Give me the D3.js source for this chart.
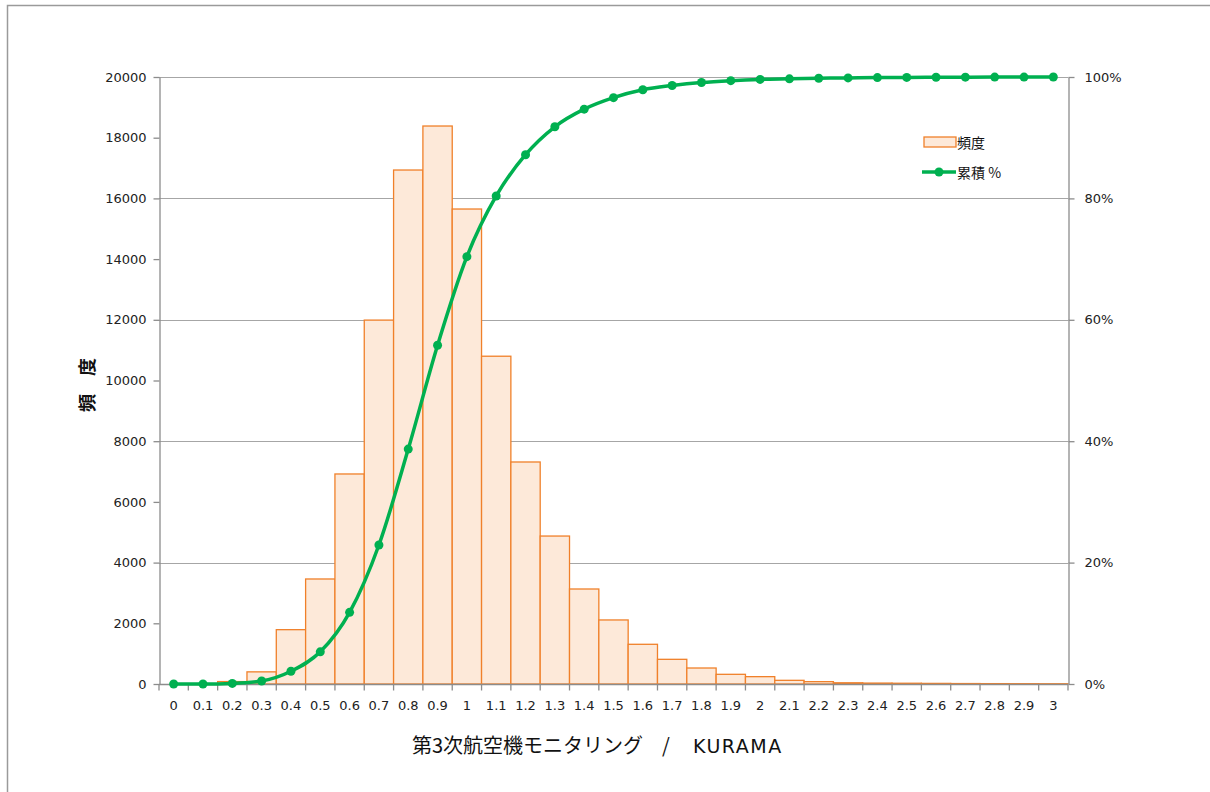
<!DOCTYPE html>
<html>
<head>
<meta charset="utf-8">
<script src="https://cdn.jsdelivr.net/npm/d3@7"></script>
<style>
  body { margin: 0; background: #fff; }
  text { font-family: "DejaVu Sans", "Noto Sans CJK JP", sans-serif; }
</style>
</head>
<body>
<svg id="chart" width="1210" height="792"></svg>
<script>
////////// DATA //////////

var categories = ["0","0.1","0.2","0.3","0.4","0.5","0.6","0.7","0.8","0.9","1","1.1","1.2","1.3","1.4","1.5",
                  "1.6","1.7","1.8","1.9","2","2.1","2.2","2.3","2.4","2.5","2.6","2.7","2.8","2.9","3"];

// frequency per bin
var frequency = [0, 5, 80, 400, 1790, 3460, 6920, 11990, 16935, 18385, 15650, 10800, 7315, 4875, 3130, 2110,
                 1308, 813, 527, 319, 242, 121, 77, 40, 30, 25, 20, 15, 12, 10, 8];

// cumulative percent
var cumulative = [0, 0, 0.1, 0.5, 2.1, 5.3, 11.8, 22.9, 38.7, 55.8, 70.4, 80.4, 87.2, 91.8, 94.7, 96.6,
                  97.9, 98.6, 99.1, 99.4, 99.6, 99.7, 99.8, 99.85, 99.9, 99.93, 99.95, 99.97, 99.98, 99.99, 100];

var leftTicks = [0, 2000, 4000, 6000, 8000, 10000, 12000, 14000, 16000, 18000, 20000];
var rightTicks = [0, 20, 40, 60, 80, 100];

var legendLabels = ["頻度", "累積 %"];
var yTitle = "頻　度";
var xTitleJa = "第3次航空機モニタリング";
var xTitleEn = "KURAMA";


////////// SETUP //////////

var margin = {left: 159, right: 1068, top: 77, bottom: 684};

var svg = d3.select("#chart");

var x = d3.scaleBand()
    .domain(categories)
    .range([margin.left, margin.right])
    .padding(0);

var y = d3.scaleLinear()
    .domain([0, 20000])
    .range([margin.bottom, margin.top]);

var yPct = d3.scaleLinear()
    .domain([0, 100])
    .range([margin.bottom, margin.top]);

// outer frame
svg.append("path")
    .attr("d", "M7.5,800V5.5H1212")
    .attr("fill", "none")
    .attr("stroke", "#9a9a9a")
    .attr("stroke-width", 1.5);


////////// GRID //////////

svg.append("g")
    .selectAll("line")
    .data(rightTicks.filter(function(d) { return d > 0; }))
    .enter()
    .append("line")
    .attr("x1", margin.left)
    .attr("x2", margin.right)
    .attr("y1", function(d) { return Math.round(yPct(d)) + 0.5; })
    .attr("y2", function(d) { return Math.round(yPct(d)) + 0.5; })
    .attr("stroke", "#a6a6a6")
    .attr("stroke-width", 1.2);


////////// BARS //////////

svg.append("g")
    .selectAll("rect")
    .data(frequency)
    .enter()
    .append("rect")
    .attr("x", function(d, i) { return x(categories[i]); })
    .attr("width", x.bandwidth())
    .attr("y", function(d) { return y(d); })
    .attr("height", function(d) { return margin.bottom - y(d); })
    .attr("fill", "#fde9d9")
    .attr("stroke", "#f0802a")
    .attr("stroke-width", 1.3);


////////// AXES //////////

var axisColor = "#8c8c8c";

function styleAxis(g) {
  g.select(".domain").attr("stroke", axisColor).attr("stroke-width", 1.3);
  g.selectAll(".tick line").attr("stroke", axisColor).attr("stroke-width", 1.3);
  g.selectAll(".tick text")
      .attr("fill", "#222")
      .style("font-size", "13px")
      .style("font-family", "'DejaVu Sans', sans-serif");
}

svg.append("g")
    .attr("transform", "translate(" + (margin.left + 0.5) + ",0)")
    .call(d3.axisLeft(y).tickValues(leftTicks).tickSize(6).tickSizeOuter(0).tickPadding(7).tickFormat(d3.format("d")))
    .call(styleAxis);

svg.append("g")
    .attr("transform", "translate(" + (margin.right + 0.5) + ",0)")
    .call(d3.axisRight(yPct).tickValues(rightTicks).tickSize(6).tickSizeOuter(0).tickPadding(10)
      .tickFormat(function(d) { return d + "%"; }))
    .call(styleAxis);

// x axis: ticks on category boundaries
var xAxis = svg.append("g")
    .attr("transform", "translate(0," + (margin.bottom + 0.5) + ")");

xAxis.append("line")
    .attr("x1", margin.left)
    .attr("x2", margin.right)
    .attr("stroke", axisColor)
    .attr("stroke-width", 1.3);

xAxis.selectAll(".xtick")
    .data(categories.concat(["end"]))
    .enter()
    .append("line")
    .attr("x1", function(d, i) { return margin.left + i * x.step(); })
    .attr("x2", function(d, i) { return margin.left + i * x.step(); })
    .attr("y1", 0)
    .attr("y2", 6)
    .attr("stroke", axisColor)
    .attr("stroke-width", 1.3);

xAxis.selectAll(".xlabel")
    .data(categories)
    .enter()
    .append("text")
    .attr("x", function(d) { return x(d) + x.bandwidth() / 2; })
    .attr("y", 25)
    .attr("text-anchor", "middle")
    .attr("fill", "#222")
    .style("font-size", "13px")
    .text(function(d) { return d; });


////////// CUMULATIVE LINE //////////

var line = d3.line()
    .x(function(d, i) { return x(categories[i]) + x.bandwidth() / 2; })
    .y(function(d) { return yPct(d); })
    .curve(d3.curveMonotoneX);

svg.append("path")
    .datum(cumulative)
    .attr("d", line)
    .attr("fill", "none")
    .attr("stroke", "#00b050")
    .attr("stroke-width", 3.5);

svg.append("g")
    .selectAll("circle")
    .data(cumulative)
    .enter()
    .append("circle")
    .attr("cx", function(d, i) { return x(categories[i]) + x.bandwidth() / 2; })
    .attr("cy", function(d) { return yPct(d); })
    .attr("r", 4.5)
    .attr("fill", "#00b050");


////////// LEGEND //////////

var legend = svg.append("g")
    .attr("transform", "translate(922,0)");

legend.append("rect")
    .attr("x", 2)
    .attr("y", 137)
    .attr("width", 32)
    .attr("height", 10)
    .attr("fill", "#fde9d9")
    .attr("stroke", "#f0802a")
    .attr("stroke-width", 1.3);

legend.append("text")
    .attr("x", 35)
    .attr("y", 148)
    .attr("fill", "#111")
    .style("font-size", "14px")
    .style("font-family", "'Noto Sans CJK JP', sans-serif")
    .text(legendLabels[0]);

legend.append("line")
    .attr("x1", 0)
    .attr("x2", 34)
    .attr("y1", 172)
    .attr("y2", 172)
    .attr("stroke", "#00b050")
    .attr("stroke-width", 3.5);

legend.append("circle")
    .attr("cx", 17)
    .attr("cy", 172)
    .attr("r", 4.5)
    .attr("fill", "#00b050");

legend.append("text")
    .attr("x", 35)
    .attr("y", 178)
    .attr("fill", "#111")
    .style("font-size", "14px")
    .style("font-family", "'Noto Sans CJK JP', sans-serif")
    .text(legendLabels[1]);


////////// TITLES //////////

svg.append("text")
    .attr("transform", "translate(94,385) rotate(-90)")
    .attr("text-anchor", "middle")
    .attr("fill", "#111")
    .style("font-size", "18px")
    .style("font-weight", "bold")
    .style("font-family", "'Noto Sans CJK JP', sans-serif")
    .text(yTitle);

var xt = svg.append("text")
    .attr("x", 412)
    .attr("y", 753)
    .attr("fill", "#111")
    .style("font-size", "20px")
    .style("font-family", "'Noto Sans CJK JP', sans-serif");

xt.append("tspan")
    .text(xTitleJa);

xt.append("tspan")
    .attr("x", 662)
    .text("/");

xt.append("tspan")
    .attr("x", 693)
    .style("font-family", "'DejaVu Sans', sans-serif")
    .style("font-size", "19px")
    .style("letter-spacing", "1.5px")
    .text(xTitleEn);
</script>
</body>
</html>
